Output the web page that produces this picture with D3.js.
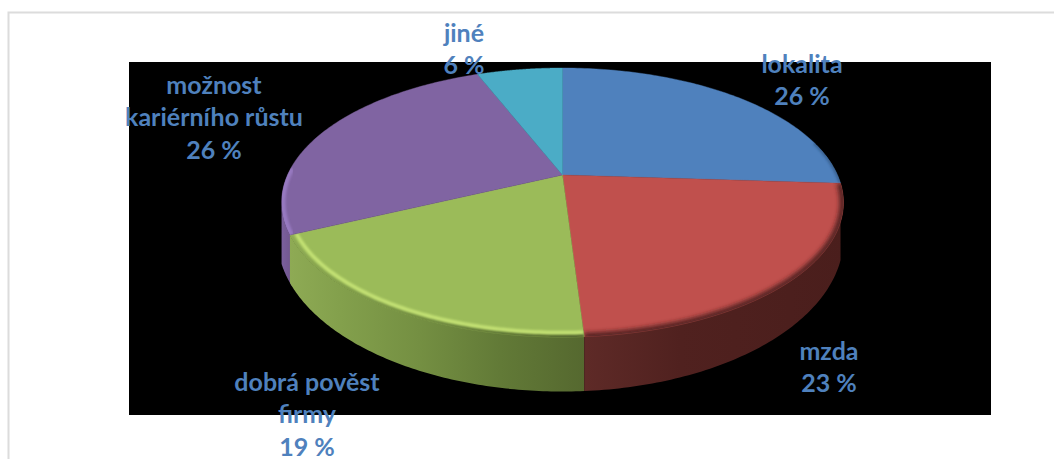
<!DOCTYPE html>
<html><head><meta charset="utf-8">
<script src="https://cdn.jsdelivr.net/npm/d3@7"></script>
<style>html,body{margin:0;padding:0;background:#fff;overflow:hidden}svg{display:block}</style>
</head><body><svg id="c" width="1054" height="459"></svg>
<script>
const categories = ["lokalita","mzda","dobrá pověst firmy","možnost kariérního růstu","jiné"];
const values = [26,23,19,26,6];
const labelLines = [["lokalita","26 %"],["mzda","23 %"],["dobrá pověst","firmy","19 %"],["možnost","kariérního růstu","26 %"],["jiné","6 %"]];
const topColors = ["#4f81bd","#c0504d","#9bbb59","#8064a2","#4bacc6"];
const labelX = [802,829,307,214,464];
const labelY = [65,352,383,86,34];
const wallStops = [
  null,
  [[586,"#5e2a27"],[680,"#50211f"],[845,"#4a1e1c"]],
  [[285,"#8fab55"],[340,"#83a04c"],[420,"#748f42"],[500,"#627a37"],[586,"#55682f"]],
  [[280,"#7d619f"],[295,"#6d5389"]],
  null
];
// part of each slice's rim that carries a bevel: [from, to] as a fraction of the slice
const edgeStyle = [
  {c:"#2f5078",w:3,b:1.2,o:0.6,f:[0.8,1],r:0.998},
  {c:"#4a1f1d",w:7,b:2.2,o:0.9,f:[0,1],r:0.998},
  {c:"#c4e274",w:3.5,b:1.1,o:1,f:[0,1],r:0.978},
  {c:"#9a7cc4",w:5,b:1.2,o:0.9,f:[0,0.3],r:0.995},
  null
];

const svg = d3.select("#c");
const cx=562.5, cy=175, k=0.2045, A=128.9, B=275;
const sx = d3.scaleLinear().domain([0,1]).range([cx,cx+B]);
const sy = d3.scaleLinear().domain([0,1]).range([cy,cy+A]);
function proj(t,r=1){const x=r*Math.sin(t),y=-r*Math.cos(t),w=1-k*y;return [sx(x/w),sy(y/w)];}
function lower(p){const dx=(p[0]-cx)/(p[0]<cx?285:281);return [p[0],238+153.5*Math.sqrt(Math.max(0,1-dx*dx))];}
function samples(a,b){return d3.range(0,101).map(i=>a+(b-a)*i/100);}
const line=d3.line();
const defs=svg.append("defs");
const arcs=d3.pie().sort(null)(values);

svg.append("rect").attr("x",129).attr("y",62).attr("width",862).attr("height",353).attr("fill","#000");
svg.append("path").attr("d","M1054,12.5H8.5V459").attr("fill","none").attr("stroke","#dcdcdc").attr("stroke-width",2);

// side wall
[3,2,1].forEach(i=>{
  const a=arcs[i],stops=wallStops[i];
  const g=defs.append("linearGradient").attr("id","w"+i).attr("gradientUnits","userSpaceOnUse")
    .attr("x1",stops[0][0]).attr("x2",stops[stops.length-1][0]).attr("y1",0).attr("y2",0);
  const span=stops[stops.length-1][0]-stops[0][0];
  stops.forEach(s=>g.append("stop").attr("offset",(s[0]-stops[0][0])/span).attr("stop-color",s[1]));
  let ts=samples(a.startAngle,a.endAngle);
  if(i===3){ // only the stretch up to the leftmost rim point can be seen
    const m=d3.leastIndex(ts,(u,v)=>proj(u)[0]-proj(v)[0]);
    ts=ts.slice(0,m+1);
  } else {
    ts=ts.filter(t=>{const p=proj(t);return lower(p)[1]>p[1];});
  }
  const up=ts.map(t=>proj(t));
  let lo=up.map(lower).reverse();
  if(i===3) lo=lo.concat([[proj(ts[0])[0]+2,lower([proj(ts[0])[0]+2])[1]]]);
  svg.append("path").attr("d",line(up.concat(lo))+"Z").attr("fill",`url(#w${i})`);
});

// top faces
arcs.forEach((a,i)=>{
  const pts=[[cx,cy]].concat(samples(a.startAngle,a.endAngle).map(t=>proj(t)));
  const d=line(pts)+"Z";
  svg.append("path").attr("d",d).attr("fill",topColors[i]).attr("stroke",topColors[i]).attr("stroke-width",0.4);
  const e=edgeStyle[i];
  if(e){
    const cid="c"+i, fid="b"+i;
    defs.append("clipPath").attr("id",cid).append("path").attr("d",d);
    defs.append("filter").attr("id",fid).attr("x","-10%").attr("y","-20%").attr("width","120%").attr("height","140%")
      .append("feGaussianBlur").attr("stdDeviation",e.b);
    const s=a.startAngle+(a.endAngle-a.startAngle)*e.f[0], t=a.startAngle+(a.endAngle-a.startAngle)*e.f[1];
    const g=svg.append("g").attr("clip-path",`url(#${cid})`);
    if(i===2){ // outer band of the green rim shades into the wall below the highlight
      g.append("path").attr("d",line(samples(s,t).map(u=>proj(u,1))))
        .attr("fill","none").attr("stroke",`url(#w2)`).attr("stroke-width",6).attr("filter",`url(#${fid})`);
    }
    g.append("path").attr("d",line(samples(s,t).map(u=>proj(u,e.r))))
      .attr("fill","none").attr("stroke",e.c).attr("stroke-width",e.w).attr("stroke-opacity",e.o).attr("filter",`url(#${fid})`);
  }
});

// labels
labelLines.forEach((ls,i)=>{
  const t=svg.append("text").attr("text-anchor","middle").attr("font-family","Lato, 'Open Sans', sans-serif")
    .attr("font-weight",700).attr("font-size",25).attr("fill","#4f81bd");
  ls.forEach((s,j)=>t.append("tspan").attr("x",labelX[i]).attr("y",labelY[i]+8+j*32.3).text(s));
});
</script></body></html>
